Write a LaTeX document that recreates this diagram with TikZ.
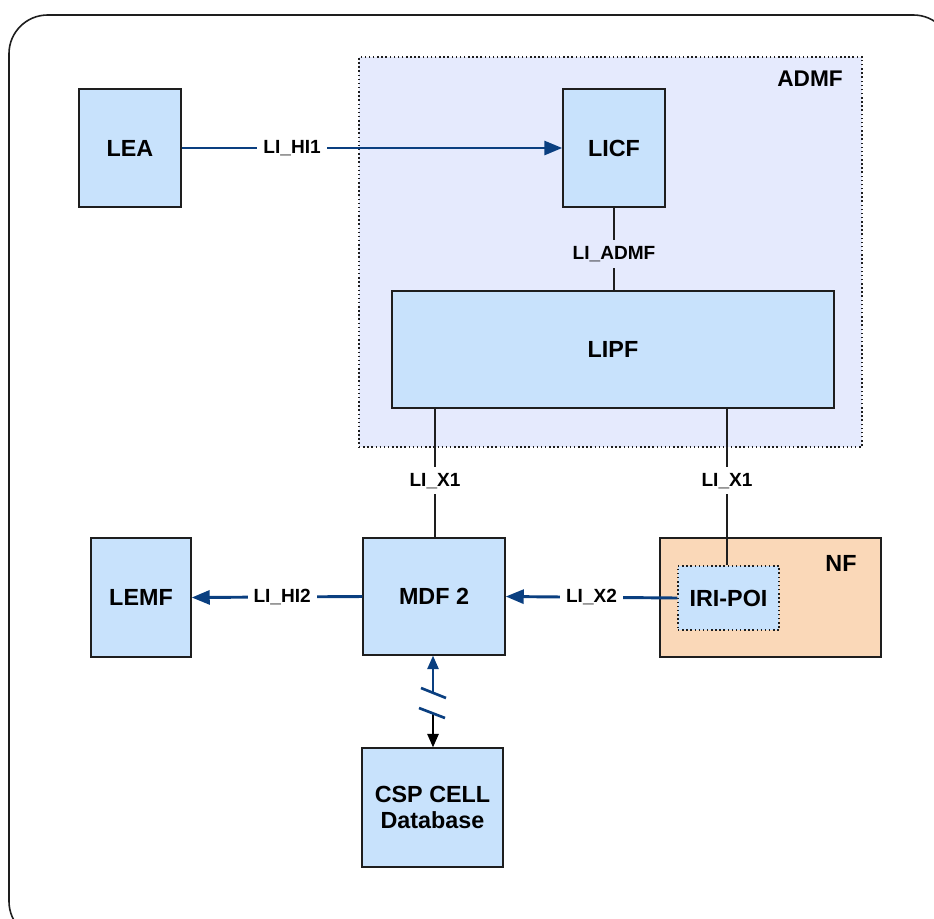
\documentclass[tikz,border=0pt]{standalone}
\usepackage{fontspec}
\setmainfont{Liberation Sans}
\usetikzlibrary{arrows.meta,calc}
\definecolor{boxblue}{HTML}{C8E2FC}
\definecolor{admfbg}{HTML}{E5EAFD}
\definecolor{nfbg}{HTML}{FAD8B8}
\definecolor{navy}{HTML}{0A3F80}
\definecolor{edge}{HTML}{1E1E1E}
\tikzset{
  fbox/.style={draw=edge, line width=1.1pt, fill=boxblue, minimum width=#1, inner sep=0pt,
    font=\fontsize{17.5}{19}\selectfont\bfseries, align=center},
  lbl/.style={fill=white, inner sep=4.5pt, font=\fontsize{14.3}{17}\selectfont\bfseries},
  bluearrow/.style={draw=navy, line width=2.2pt, -{Triangle[length=13.5pt,width=10.5pt]}},
  plainline/.style={draw=edge, line width=1pt},
}
\begin{document}
\begin{tikzpicture}[x=0.75pt,y=-0.75pt]
\useasboundingbox (0,0) rectangle (934,918);
\begin{scope}
\clip (0,0) rectangle (934,918);
\draw[edge, line width=1.2pt, rounded corners=29pt] (9,15) rectangle (952,940);
\end{scope}
% ADMF container
\node[draw=edge, dotted, line width=1.1pt, fill=admfbg, minimum width=503*0.75pt, minimum height=390*0.75pt, inner sep=0pt] (ADMF) at (610.5,252) {};
\node[font=\fontsize{17}{20}\selectfont\bfseries, anchor=east, inner sep=0pt] (ADMFl) at (843,79) {ADMF};
% NF container
\node[draw=edge, line width=1.1pt, fill=nfbg, minimum width=221*0.75pt, minimum height=119*0.75pt, inner sep=0pt] (NF) at (770.5,597.5) {};
\node[font=\fontsize{17.5}{21}\selectfont\bfseries] (NFl) at (841,563) {NF};
% boxes
\node[fbox=102*0.75pt, minimum height=118*0.75pt] (LEA) at (130,148) {LEA};
\node[fbox=102*0.75pt, minimum height=118*0.75pt] (LICF) at (614,148) {LICF};
\node[fbox=442*0.75pt, minimum height=117*0.75pt] (LIPF) at (613,349.5) {LIPF};
\node[fbox=142*0.75pt, minimum height=117*0.75pt] (MDF) at (434,596.5) {MDF 2};
\node[fbox=100*0.75pt, minimum height=119*0.75pt] (LEMF) at (141,597.5) {LEMF};
\node[fbox=141*0.75pt, minimum height=119*0.75pt] (CSP) at (432.5,807.5) {CSP CELL\\Database};
\node[fbox=101*0.75pt, minimum height=64*0.75pt, dotted] (IRI) at (728.5,598) {IRI-POI};
% connectors
\draw[bluearrow] (LEA.east) -- node[lbl, pos=0.29] (lhi1) {LI\_HI1} (LICF.west);
\draw[plainline] (LICF.south) -- node[lbl, fill=admfbg, pos=0.56] (ladmf) {LI\_ADMF} (LICF.south |- LIPF.north);
\draw[plainline] (LIPF.south -| 435,0) -- node[lbl, pos=0.56] (lx1a) {LI\_X1} (MDF.north -| 435,0);
\draw[plainline] (LIPF.south -| 727,0) -- node[lbl, pos=0.46] (lx1b) {LI\_X1} (IRI.north -| 727,0);
\draw[bluearrow] (MDF.west) -- node[lbl, pos=0.47] (lhi2) {LI\_HI2} (LEMF.east);
\draw[bluearrow] (IRI.west) -- node[lbl, pos=0.5] (lx2) {LI\_X2} (MDF.east);
% database link with break marks
\coordinate (s1) at (433,693);
\coordinate (s2) at (433,713);
\draw[draw=navy, line width=1.2pt, -{Triangle[length=10pt,width=8.5pt]}] (s1) -- (MDF.south -| s1);
\draw[draw=black, line width=1.2pt, -{Triangle[length=10pt,width=8.5pt]}] (s2) -- (CSP.north -| s2);
\draw[navy, line width=2pt] ($(s1)+(-12,-5)$) coordinate (a1) -- ($(s1)+(13,5)$) coordinate (b1);
\draw[navy, line width=2pt] ($(s2)+(-14,-5)$) coordinate (a2) -- ($(s2)+(12,5)$) coordinate (b2);
\end{tikzpicture}
\end{document}
